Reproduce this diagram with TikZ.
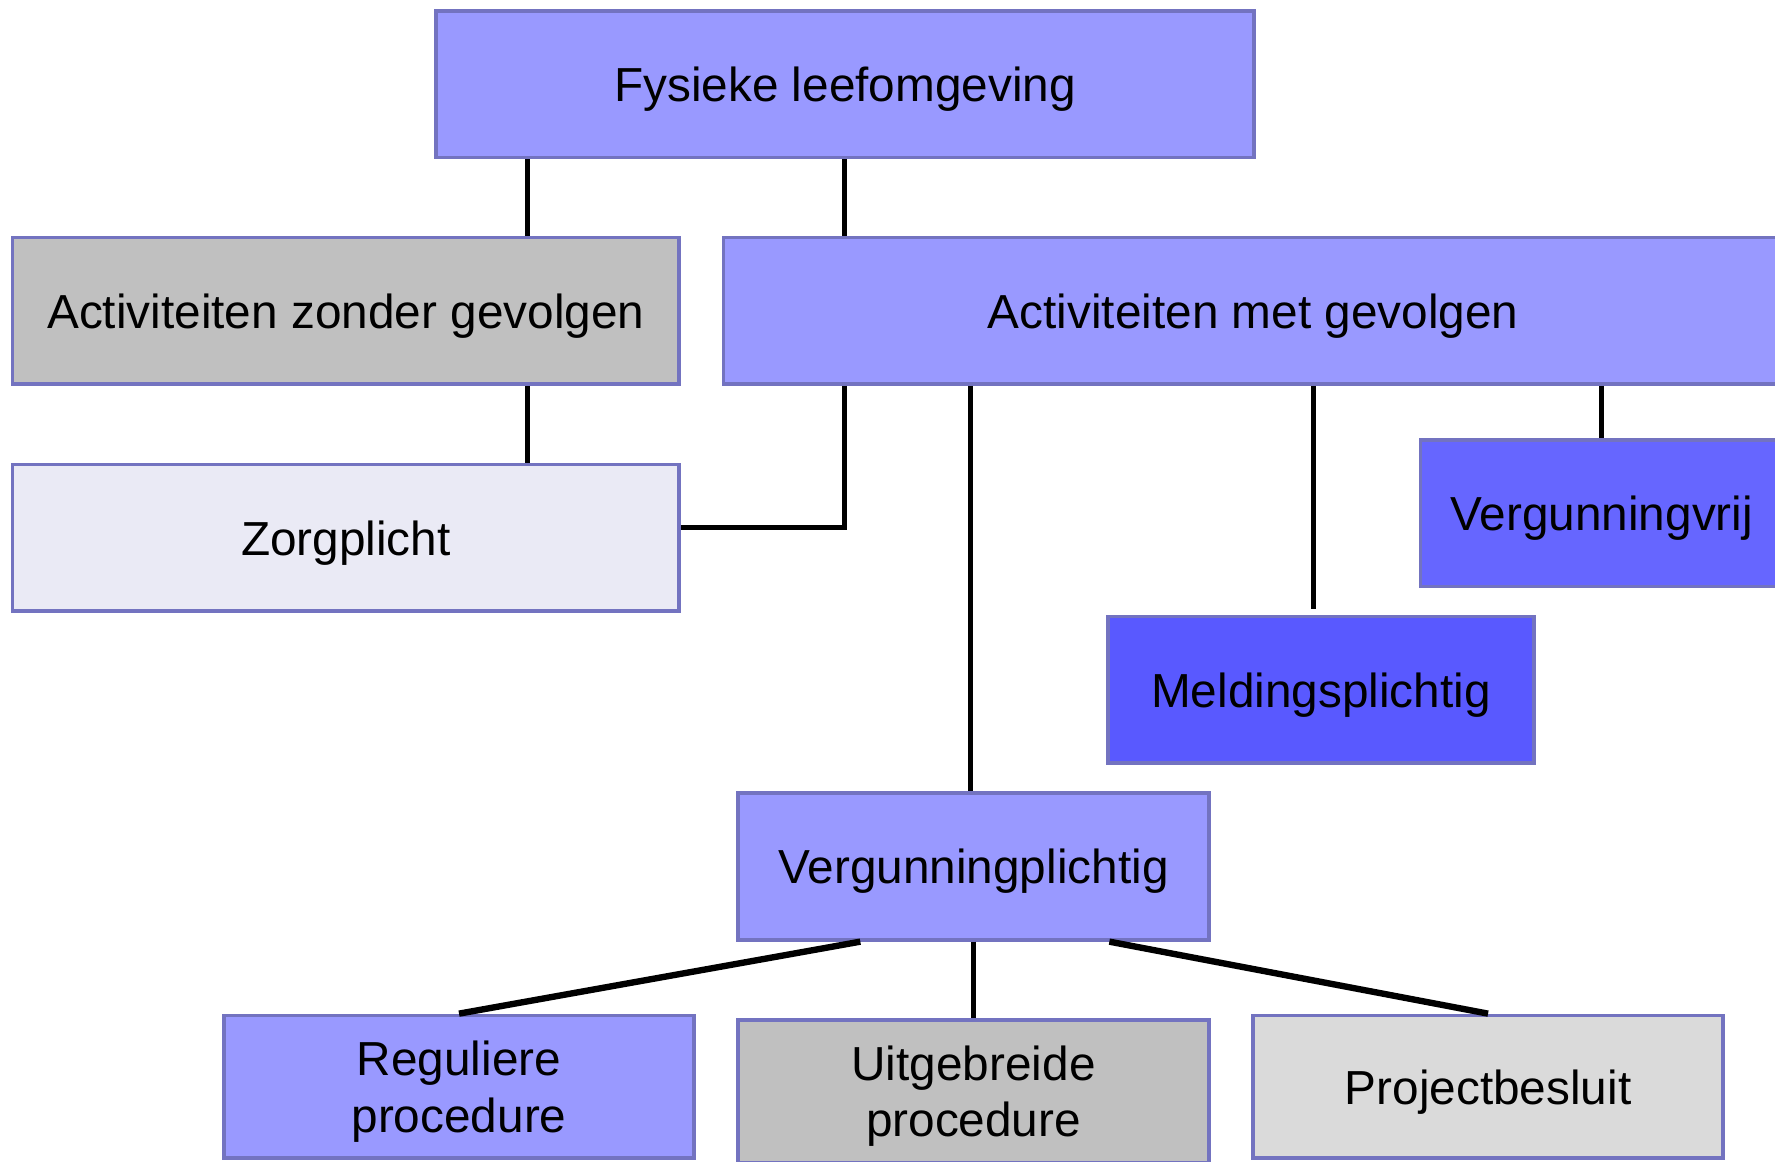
\documentclass[tikz,border=0pt]{standalone}
\usepackage{fontspec}
\setmainfont{Liberation Sans}
\definecolor{rand}{RGB}{115,115,192}
\definecolor{lila}{RGB}{153,153,255}
\definecolor{grijs}{RGB}{192,192,192}
\definecolor{bleek}{RGB}{234,234,245}
\definecolor{paars}{RGB}{102,102,255}
\definecolor{blauw}{RGB}{89,89,255}
\definecolor{licht}{RGB}{218,218,218}

\begin{document}
\begin{tikzpicture}[x=0.1mm,y=-0.1mm]
      % \tikzset{every node/.style={font=\small}}
      \tikzset{vak/.style={draw=rand, line width=0.9pt, inner sep=0pt, minimum height=3.7mm*3.5,
            text depth=0pt, align=center, font=\fontsize{12}{14.2}\selectfont},
            lijn/.style={line width=1.2pt, black}}
      \useasboundingbox (0,0) rectangle (1568,1026);
      \node[vak, fill=lila,  minimum width=72.3mm] (fysiek)  at (746.5,74.5) {Fysieke leefomgeving};
      \node[vak, fill=grijs, minimum width=58.9mm] (zonder)  at (305.5,274.5) {Activiteiten zonder gevolgen};
      \node[vak, fill=lila,  minimum width=93.6mm] (met)     at (1107,274.5) {Activiteiten met gevolgen};
      \node[vak, fill=bleek, minimum width=58.9mm] (zorg)    at (305.5,475) {Zorgplicht};
      \node[vak, fill=paars, minimum width=32mm]   (vrij)    at (1415,453.5) {Vergunningvrij};
      \node[vak, fill=blauw, minimum width=37.6mm] (meld)    at (1167,609.5) {Meldingsplichtig};
      \node[vak, fill=lila,  minimum width=41.6mm] (vplicht) at (860,765.5) {Vergunningplichtig};
      \node[vak, fill=lila,  minimum width=41.5mm, minimum height=12.6mm] (regul)   at (405.5,960) {Reguliere\\procedure};
      \node[vak, fill=grijs, minimum width=41.6mm, minimum height=12.6mm] (uitgeb)  at (860,964) {Uitgebreide\\procedure};
      \node[vak, fill=licht, minimum width=41.5mm, minimum height=12.6mm] (project) at (1314.5,960) {Projectbesluit};
      % verbindingen
      \draw[lijn] (fysiek.south -| 466,0) -- (zonder.north -| 466,0);
      \draw[lijn] (fysiek.south -| 746,0) -- (met.north -| 746,0);
      \draw[lijn] (zonder.south -| 466,0) -- (zorg.north -| 466,0);
      \draw[lijn] (met.south -| 746,0) |- ([yshift=2.5pt]zorg.east);
      \draw[lijn] (met.south -| 857,0) -- (vplicht.north -| 857,0);
      \draw[lijn] (met.south -| 1160,0) -- ([yshift=1.4pt]meld.north -| 1160,0);
      \draw[lijn] (met.south -| vrij.north) -- (vrij.north);
      \draw[lijn, line width=1.6pt] (vplicht.south -| 760,0) -- (regul.north);
      \draw[lijn] (vplicht.south) -- (uitgeb.north);
      \draw[lijn, line width=1.6pt] (vplicht.south -| 980,0) -- (project.north);
\end{tikzpicture}
\end{document}
